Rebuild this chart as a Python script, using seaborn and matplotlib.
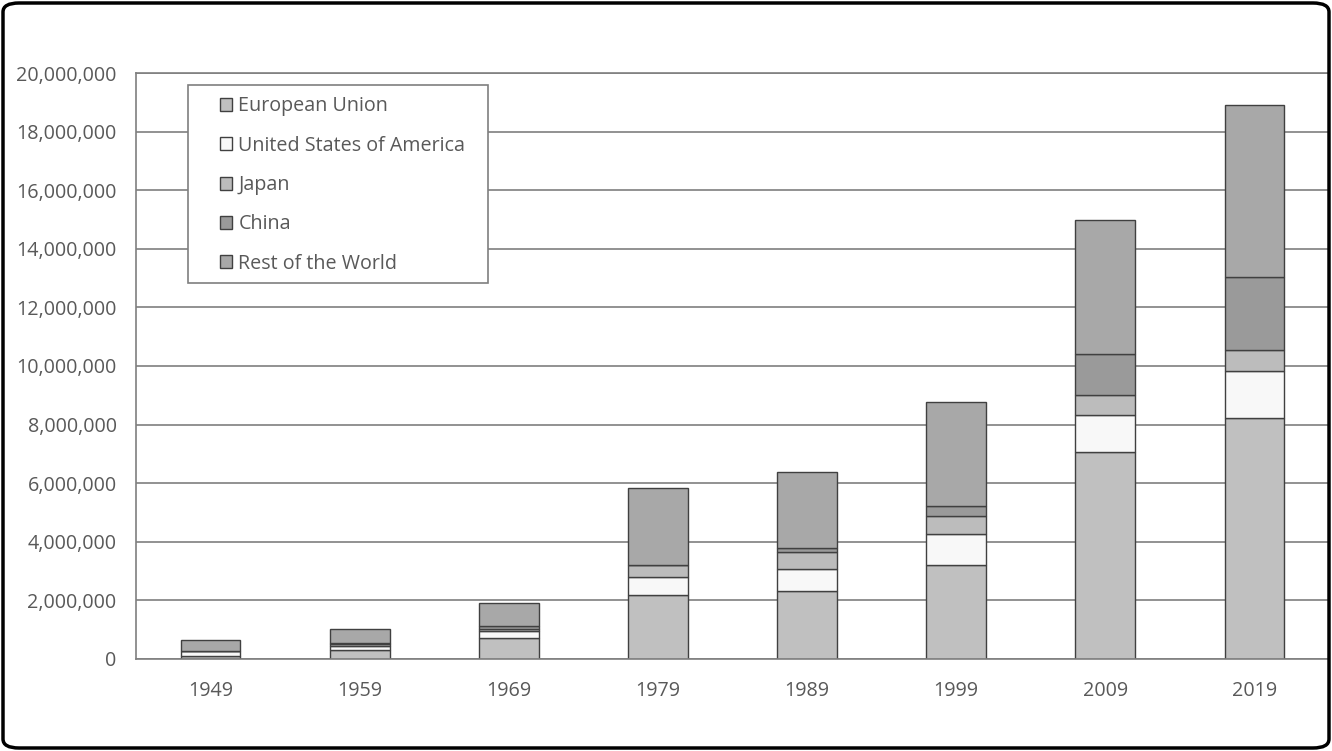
import numpy as np
import pandas as pd
import matplotlib
matplotlib.use("Agg")
import matplotlib.pyplot as plt
from matplotlib.patches import FancyBboxPatch, Patch, Rectangle
from matplotlib.ticker import FuncFormatter
import seaborn as sns

# Production by region (units), stacked bottom to top
years = ["1949", "1959", "1969", "1979", "1989", "1999", "2009", "2019"]
european_union = [110000, 300000, 720000, 2170000, 2330000, 3200000, 7060000, 8220000]
united_states = [160000, 160000, 240000, 640000, 740000, 1060000, 1260000, 1600000]
japan = [10000, 50000, 80000, 390000, 570000, 630000, 680000, 710000]
china = [0, 20000, 70000, 20000, 140000, 320000, 1400000, 2500000]
rest_of_world = [370000, 510000, 810000, 2610000, 2610000, 3560000, 4570000, 5890000]

series_names = ["European Union", "United States of America", "Japan", "China", "Rest of the World"]
series_values = [european_union, united_states, japan, china, rest_of_world]
series_colors = ["#c0c0c0", "#f8f8f8", "#bcbcbc", "#9a9a9a", "#a8a8a8"]

df = pd.DataFrame({"year": years})
for name, vals in zip(series_names, series_values):
    df[name] = vals

sns.set_theme(style="white")
plt.rcParams["font.family"] = ["Open Sans", "DejaVu Sans"]
text_gray = "#595959"
font_size = 14.2

fig = plt.figure(figsize=(13.32, 7.51), dpi=100)
ax = fig.add_axes([136 / 1332, (751 - 659) / 751, 1193 / 1332, 586 / 751])

bottom = np.zeros(len(years))
for name, color in zip(series_names, series_colors):
    sns.barplot(data=df, x="year", y=name, order=years, bottom=bottom,
                color=color, saturation=1, width=0.4, edgecolor="#404040",
                linewidth=1.0, ax=ax)
    bottom = bottom + df[name].to_numpy()

ax.set_ylim(0, 20000000)
ax.set_xlim(-0.5, len(years) - 0.5)
ax.set_yticks(np.arange(0, 20000001, 2000000))
ax.yaxis.set_major_formatter(FuncFormatter(lambda v, p: f"{int(v):,}"))
ax.set_xlabel("")
ax.set_ylabel("")
ax.grid(axis="y", color="#7f7f7f", linewidth=1.2)
ax.set_axisbelow(True)
for s in ax.spines.values():
    s.set_visible(True)
    s.set_color("#7f7f7f")
    s.set_linewidth(1.2)
ax.tick_params(axis="both", length=0, labelsize=font_size, labelcolor=text_gray)
ax.tick_params(axis="y", pad=14)
ax.tick_params(axis="x", pad=16)

# Legend frame drawn separately so its padding can be set freely
legend_frame = Rectangle((0.0436, 0.6416), 0.2515, 0.3379, transform=ax.transAxes,
                         facecolor="white", edgecolor="#7f7f7f", linewidth=1.2,
                         zorder=4)
ax.add_patch(legend_frame)

handles = [Patch(facecolor=c, edgecolor="#404040", linewidth=1.0, label=n)
           for n, c in zip(series_names, series_colors)]
leg = ax.legend(handles=handles, loc="center left", bbox_to_anchor=(0.0704, 0.8089),
                frameon=False, fontsize=font_size,
                handlelength=0.63, handleheight=0.63, handletextpad=0.3,
                labelspacing=0.98, borderpad=0, borderaxespad=0)
leg.set_zorder(5)
for t in leg.get_texts():
    t.set_color(text_gray)

# Rounded outer border
border = FancyBboxPatch((3 / 1332, 3 / 751), 1326 / 1332, 745 / 751,
                        boxstyle="round,pad=0,rounding_size=0.012",
                        transform=fig.transFigure, fill=False,
                        edgecolor="black", linewidth=2.5, zorder=10)
fig.patches.append(border)

fig.savefig("out.png", dpi=100, facecolor="white")
